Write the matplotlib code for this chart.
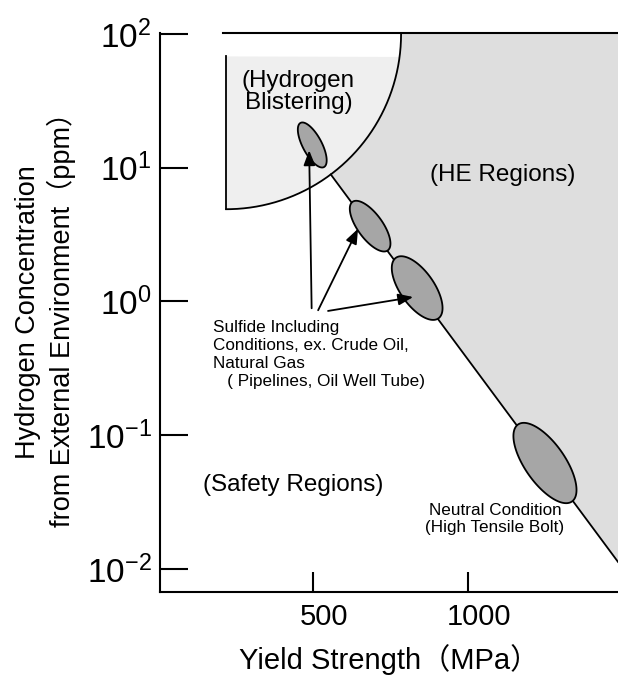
import numpy as np
import matplotlib
matplotlib.use('Agg')
import matplotlib.pyplot as plt
import matplotlib.transforms as mtransforms

plt.rcParams['font.family'] = ['Liberation Sans', 'Noto Sans CJK JP']
plt.rcParams['mathtext.fontset'] = 'custom'
plt.rcParams['mathtext.rm'] = 'Liberation Sans'
plt.rcParams['mathtext.it'] = 'Liberation Sans:italic'
plt.rcParams['mathtext.bf'] = 'Liberation Sans:bold'

# ---- data ----
yield_ticks = [500, 1000]
ppm_exponents = [-2, -1, 0, 1, 2]

# blistering circle (centre in MPa / ppm, radii in MPa / decades)
blister_center = (219, 100.0)
blister_radius = (565, 1.31)
blister_top = 68.0

# HE boundary line (straight on the log scale)
he_line_x = [560, 1485]
he_line_y = [8.5, 0.0113]

# service conditions (centre yield strength, centre ppm)
cond_x = [497, 684, 836, 1249]
cond_y = [14.8, 3.66, 1.26, 0.062]
cond_len = [25, 30, 37, 47]      # semi axes, px
cond_wid = [9.5, 12.5, 17, 20]
cond_ang = [-62, -54, -55, -55]  # deg in display space

# arrows from the sulfide note
arrow_tail = [(495, 0.89), (516, 0.86), (548, 0.85)]
arrow_head = [(487, 13.5), (645, 3.5), (823, 1.08)]

XLIM = (5, 1485)
YLIM = (10 ** -2.172, 10 ** 2.0075)

fig = plt.figure(figsize=(6.18, 6.84), dpi=100)
ax = fig.add_axes([160 / 618, 1 - 592 / 684, 458 / 618, 559 / 684])
ax.set_yscale('log')
ax.set_xlim(*XLIM)
ax.set_ylim(*YLIM)

# pixel scales, used to draw the ellipses round on screen
bbox = ax.get_window_extent()
px_per_mpa = bbox.width / (XLIM[1] - XLIM[0])
px_per_dec = bbox.height / (np.log10(YLIM[1]) - np.log10(YLIM[0]))

LW = 1.3

# ---- blistering circle ----
cx, cy = blister_center
rx, ry = blister_radius
th = np.linspace(0, -np.pi / 2, 300)
arc_x = cx + rx * np.cos(th)
arc_ly = np.log10(cy) + ry * np.sin(th)

# light region inside the circle, below blister_top
inside = arc_ly <= np.log10(blister_top)
bx = np.concatenate([[cx], arc_x[inside], [cx]])
by = np.concatenate([[blister_top], 10 ** arc_ly[inside], [blister_top]])
ax.fill(bx, by, color='#efefef', lw=0, zorder=1)

# HE region: outside circle, above the line
slope = (np.log10(he_line_y[1]) - np.log10(he_line_y[0])) / (he_line_x[1] - he_line_x[0])
line_at = np.log10(he_line_y[0]) + slope * (arc_x - he_line_x[0])
above = arc_ly >= line_at
hx = np.concatenate([arc_x[above], [he_line_x[1], XLIM[1], arc_x[0]]])
hy = np.concatenate([10 ** arc_ly[above], [he_line_y[1], YLIM[1], YLIM[1]]])
ax.fill(hx, hy, color='#dedede', lw=0, zorder=1)

ax.plot(arc_x, 10 ** arc_ly, color='black', lw=LW, zorder=3)
ax.plot([cx, cx], [blister_top, 10 ** arc_ly[-1]], color='black', lw=LW, zorder=3)
ax.plot([arc_x[above][-1], he_line_x[1]],
        [10 ** arc_ly[above][-1], he_line_y[1]], color='black', lw=LW, zorder=3)

# ---- condition ellipses ----
t = np.linspace(0, 2 * np.pi, 200)
for x0, y0, a, b, ang in zip(cond_x, cond_y, cond_len, cond_wid, cond_ang):
    r = np.deg2rad(ang)
    u = a * np.cos(t)
    v = b * np.sin(t)
    du = u * np.cos(r) - v * np.sin(r)
    dv = u * np.sin(r) + v * np.cos(r)
    ex = x0 + du / px_per_mpa
    ey = y0 * 10 ** (dv / px_per_dec)
    ax.fill(ex, ey, facecolor='#a6a6a6', edgecolor='black', lw=LW, zorder=4)

# ---- arrows ----
for tail, head in zip(arrow_tail, arrow_head):
    ax.annotate('', xy=head, xytext=tail,
                arrowprops=dict(arrowstyle='-|>,head_length=0.9,head_width=0.35',
                                color='black', lw=1.3, shrinkA=0, shrinkB=0),
                zorder=5)

# ---- texts ----
ax.text(452, 36.8, '(Hydrogen\nBlistering)', fontsize=17.5, ha='center', va='center',
        linespacing=1.05, zorder=6)
ax.text(1113, 8.8, '(HE Regions)', fontsize=17.5, ha='center', va='center', zorder=6)
ax.text(435, 0.0425, '(Safety Regions)', fontsize=17.5, ha='center', va='center', zorder=6)
ax.text(177, 0.73, 'Sulfide Including\nConditions, ex. Crude Oil,\nNatural Gas\n'
        '   ( Pipelines, Oil Well Tube)',
        fontsize=12.3, ha='left', va='top', linespacing=1.25, zorder=6)
ax.text(1087, 0.0237, 'Neutral Condition\n(High Tensile Bolt)', fontsize=12.3,
        ha='center', va='center', linespacing=1.2, zorder=6)

# ---- axes styling ----
ax.spines['right'].set_visible(False)
ax.spines['top'].set_bounds(210, XLIM[1])
for s in ['left', 'bottom', 'top']:
    ax.spines[s].set_linewidth(1.5)
    ax.spines[s].set_zorder(7)

ax.set_xticks(yield_ticks)
ax.set_xticklabels([str(v) for v in yield_ticks])
ax.set_yticks([10.0 ** e for e in ppm_exponents])
ax.set_yticklabels([r'$10^{%d}$' % e for e in ppm_exponents])
ax.minorticks_off()
ax.tick_params(axis='y', direction='in', length=20, width=1.5, labelsize=24, pad=6)
ax.tick_params(axis='x', direction='in', length=14.5, width=1.5, labelsize=21, pad=8)
shift = mtransforms.ScaledTranslation(8 / 72, 0, fig.dpi_scale_trans)
for lab in ax.get_xticklabels():
    lab.set_transform(lab.get_transform() + shift)

ax.set_xlabel('Yield Strength（MPa）', fontsize=21, labelpad=9)
ax.set_ylabel('Hydrogen Concentration\nfrom External Environment（ppm）',
              fontsize=19.5, linespacing=1.25, labelpad=8)

fig.savefig('out.png', dpi=100)
